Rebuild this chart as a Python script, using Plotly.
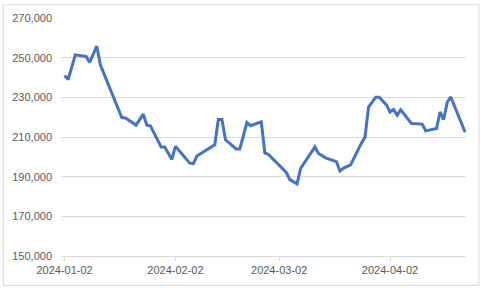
import datetime as dt
import plotly.graph_objects as go

start = dt.date(2024, 1, 2)
day_offsets = [0, 1, 3, 5, 6, 7, 9, 10, 16, 17, 20, 22, 23, 24, 27, 28, 30, 31,
               35, 36, 37, 42, 43, 44, 45, 48, 49, 51, 52, 55, 56, 57, 59, 62,
               63, 65, 66, 70, 71, 73, 76, 77, 78, 80, 83, 84, 85, 87, 88, 90,
               91, 92, 93, 94, 97, 100, 101, 104, 105, 106, 107, 108, 112]
values = [241000, 239000, 251400, 250900, 250600, 247600, 255800, 246400,
          219800, 219600, 216000, 221500, 216000, 215600, 205000, 205000,
          198700, 205300, 196800, 196600, 200400, 206100, 218800, 218800,
          208600, 204000, 204000, 217300, 215700, 217700, 202000, 201200,
          197600, 192100, 188500, 186400, 194100, 205000, 201700, 199500,
          197600, 192800, 194300, 195900, 206900, 209800, 225100, 230000,
          230000, 226200, 222600, 223900, 221000, 223700, 216800, 216500,
          213100, 214300, 222600, 218800, 227500, 230200, 212400]
dates = [start + dt.timedelta(days=d) for d in day_offsets]

tick_dates = ["2024-01-02", "2024-02-02", "2024-03-02", "2024-04-02"]
y_ticks = [150000, 170000, 190000, 210000, 230000, 250000, 270000]

fig = go.Figure()
fig.add_trace(go.Scatter(
    x=dates, y=values, mode="lines",
    line=dict(color="#4472C4", width=3),
    hoverinfo="skip", showlegend=False,
))

font = dict(family="Liberation Sans, Arial, sans-serif", size=11, color="#595959")
fig.update_layout(
    width=481, height=288,
    margin=dict(l=59, r=15, t=14, b=31),
    paper_bgcolor="white", plot_bgcolor="white",
    font=font,
    xaxis=dict(
        type="date",
        range=["2024-01-01 00:00", "2024-04-23 06:00"],
        tickvals=tick_dates, ticktext=tick_dates,
        showgrid=False, zeroline=False,
        showline=True, linecolor="#d9d9d9", linewidth=1,
        ticks="outside", ticklen=4, tickcolor="#d9d9d9",
        tickfont=font,
    ),
    yaxis=dict(
        range=[150000, 270000],
        tickvals=y_ticks, tickformat=",",
        showgrid=True, gridcolor="#d9d9d9", gridwidth=1,
        zeroline=False, showline=False, ticks="",
        ticklabelstandoff=8,
        tickfont=font,
    ),
    shapes=[dict(
        type="rect", xref="paper", yref="paper",
        x0=(1 - 59) / 407, x1=(479 - 59) / 407,
        y0=(257 - 287) / 243, y1=(257 - 0.5) / 243,
        line=dict(color="#d9d9d9", width=1), fillcolor="rgba(0,0,0,0)",
    )],
)

fig.write_html("out.html")
